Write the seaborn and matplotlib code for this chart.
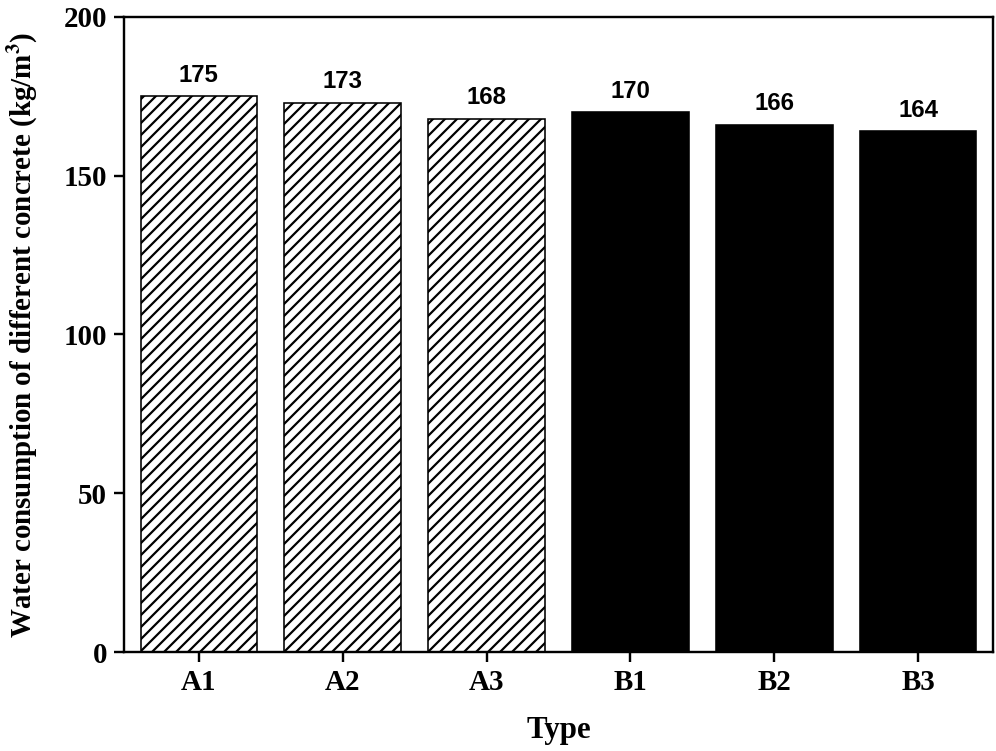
import matplotlib
matplotlib.use("Agg")
import matplotlib.pyplot as plt
import seaborn as sns
import pandas as pd

# values
types = ["A1", "A2", "A3", "B1", "B2", "B3"]
water = [175, 173, 168, 170, 166, 164]
fill_colors = ["white", "white", "white", "black", "black", "black"]
hatches = ["////", "////", "////", "", "", ""]

sns.set_style("ticks")
plt.rcParams["font.family"] = ["Liberation Serif", "DejaVu Serif"]
plt.rcParams["mathtext.fontset"] = "stix"
plt.rcParams["hatch.linewidth"] = 1.1
plt.rcParams["text.color"] = "black"
plt.rcParams["axes.labelcolor"] = "black"

df = pd.DataFrame({"Type": types, "Water": water})

fig = plt.figure(figsize=(996 / 144, 751 / 144), dpi=144)
ax = fig.add_axes([0.1245, 0.1318, 0.8725, 0.8456])

sns.barplot(data=df, x="Type", y="Water", hue="Type", palette=fill_colors,
            saturation=1, width=0.81, edgecolor="black", linewidth=0.8,
            legend=False, ax=ax)

# hatch the A-series bars
for bar, h in zip(ax.patches, hatches):
    bar.set_hatch(h)

# value labels above bars
for bar, v in zip(ax.patches, water):
    ax.text(bar.get_x() + bar.get_width() / 2, v + 3, str(v),
            ha="center", va="bottom", fontsize=12, fontweight="bold",
            family="Liberation Sans", color="black")

ax.set_xlim(-0.52, 5.52)
ax.set_ylim(0, 200)
ax.set_yticks([0, 50, 100, 150, 200])

for side in ["left", "right", "top", "bottom"]:
    ax.spines[side].set_visible(True)
    ax.spines[side].set_linewidth(1.2)
    ax.spines[side].set_color("black")

ax.tick_params(direction="out", length=5, width=1.2, labelsize=14.5, colors="black")
for lab in ax.get_xticklabels() + ax.get_yticklabels():
    lab.set_fontweight("bold")

ax.set_xlabel("Type", fontsize=15.5, fontweight="bold", labelpad=10)
ax.set_ylabel(r"Water consumption of different concrete (kg/m$^{\mathbf{3}}$)",
              fontsize=14.5, fontweight="bold", labelpad=12)

fig.savefig("out.png", dpi=144)
